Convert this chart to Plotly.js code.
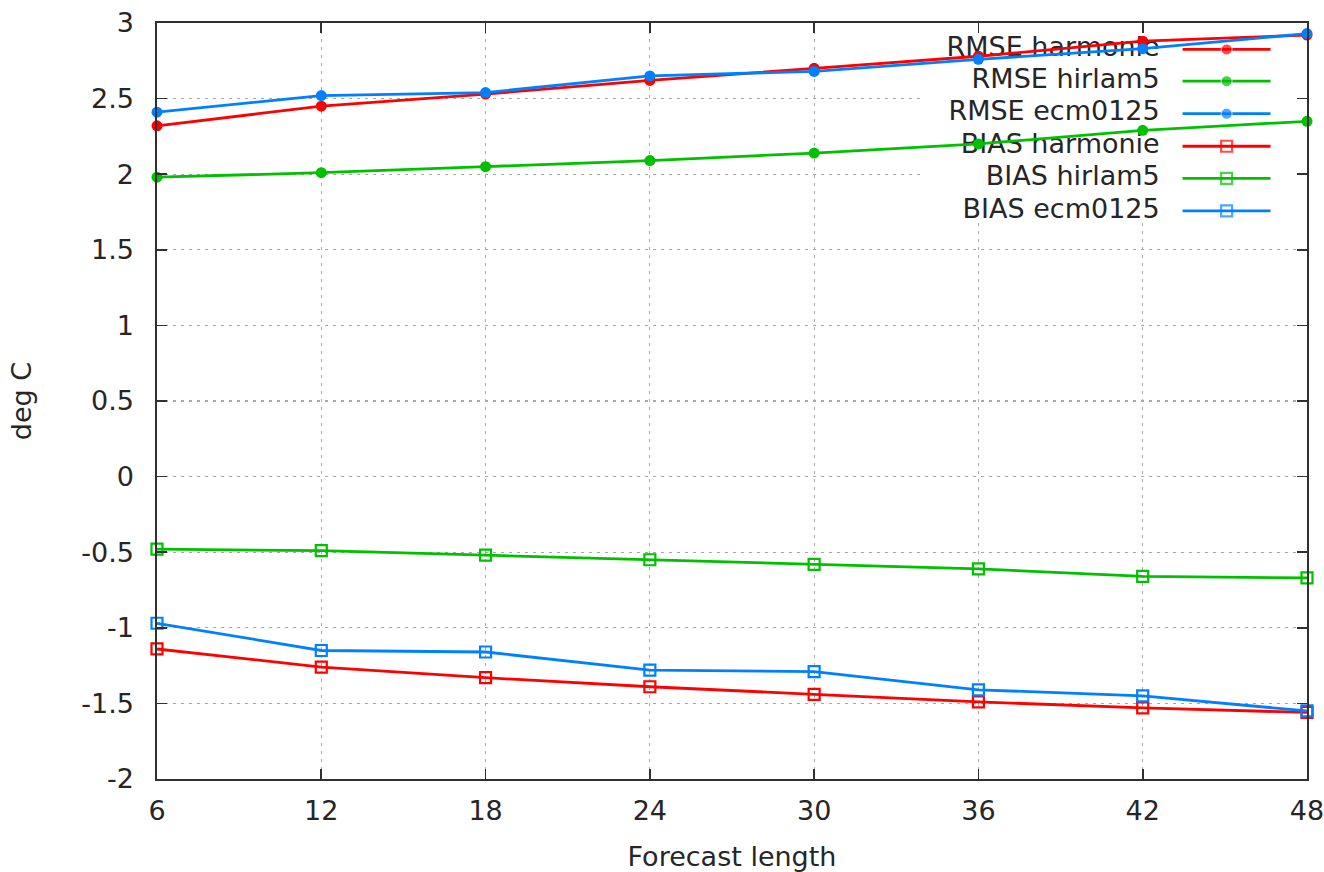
<!DOCTYPE html>
<html>
<head>
<meta charset="utf-8">
<script src="https://cdn.plot.ly/plotly-3.0.1.min.js"></script>
<style>
  html, body { margin: 0; padding: 0; background: #ffffff; }
  #chart { width: 1324px; height: 872px; }
</style>
</head>
<body>
<div id="chart"></div>
<script>
// Forecast verification: 2 m temperature RMSE and BIAS by lead time
const leadTimes = [6, 12, 18, 24, 30, 36, 42, 48];

const rmseHarmonie = [2.32, 2.45, 2.53, 2.62, 2.70, 2.78, 2.88, 2.92];
const rmseHirlam5  = [1.98, 2.01, 2.05, 2.09, 2.14, 2.20, 2.29, 2.35];
const rmseEcm0125  = [2.41, 2.52, 2.54, 2.65, 2.68, 2.76, 2.83, 2.93];
const biasHarmonie = [-1.14, -1.26, -1.33, -1.39, -1.44, -1.49, -1.53, -1.56];
const biasHirlam5  = [-0.48, -0.49, -0.52, -0.55, -0.58, -0.61, -0.66, -0.67];
const biasEcm0125  = [-0.97, -1.15, -1.16, -1.28, -1.29, -1.41, -1.45, -1.55];

const seriesNames = ["RMSE harmonie", "RMSE hirlam5", "RMSE ecm0125",
                     "BIAS harmonie", "BIAS hirlam5", "BIAS ecm0125"];

const yTickValues = [-2, -1.5, -1, -0.5, 0, 0.5, 1, 1.5, 2, 2.5, 3];
const yTickLabels = ["-2", "-1.5", "-1", "-0.5", "0", "0.5", "1", "1.5", "2", "2.5", "3"];
const xTickValues = [6, 12, 18, 24, 30, 36, 42, 48];

// styling
const RED = "#ff0000", GREEN = "#00c000", BLUE = "#0080ff";
const FONT = "DejaVu Sans, Verdana, sans-serif";
const TEXT = "#262626";
const FS = 27;
const X_RANGE = [6, 48], Y_RANGE = [-2, 3];

const styles = [
  { color: RED,   symbol: "circle" },
  { color: GREEN, symbol: "circle" },
  { color: BLUE,  symbol: "circle" },
  { color: RED,   symbol: "square-open" },
  { color: GREEN, symbol: "square-open" },
  { color: BLUE,  symbol: "square-open" }
];
const values = [rmseHarmonie, rmseHirlam5, rmseEcm0125, biasHarmonie, biasHirlam5, biasEcm0125];

// key placement, as fractions of the axis ranges
const fx = f => X_RANGE[0] + f * (X_RANGE[1] - X_RANGE[0]);
const fy = f => Y_RANGE[0] + f * (Y_RANGE[1] - Y_RANGE[0]);
const keyTextX = 0.8719, keyLine = [0.8918, 0.9301, 0.9683];
const keyRows = [0.9650, 0.9230, 0.8800, 0.8370, 0.7945, 0.7515];

const traces = [];

// key labels go first so the curves are drawn over them
traces.push({
  type: "scatter", mode: "text", hoverinfo: "skip", showlegend: false,
  x: keyRows.map(() => fx(keyTextX)),
  y: keyRows.map(r => fy(r)),
  text: seriesNames,
  textposition: "middle left",
  textfont: { family: FONT, size: FS, color: TEXT },
  cliponaxis: false
});

values.forEach((v, i) => {
  const s = styles[i];
  const isOpen = s.symbol === "square-open";
  const mk = isOpen
    ? { symbol: s.symbol, size: 11, color: s.color, line: { color: s.color, width: 2.2 } }
    : { symbol: s.symbol, size: 11, color: s.color };
  traces.push({
    type: "scatter", mode: "lines+markers", name: seriesNames[i],
    x: leadTimes, y: v, showlegend: false, cliponaxis: false,
    line: { color: s.color, width: 2.8 },
    marker: mk
  });
  // key sample: a short line with the marker in its middle
  traces.push({
    type: "scatter", mode: "lines+markers", hoverinfo: "skip", showlegend: false,
    x: keyLine.map(fx), y: keyLine.map(() => fy(keyRows[i])),
    line: { color: s.color, width: 2.8 },
    marker: Object.assign({}, mk, { size: [0, mk.size, 0] })
  });
});

const axisCommon = {
  showline: true, linecolor: "#303030", linewidth: 1.6, mirror: "ticks",
  ticks: "inside", ticklen: 10, tickwidth: 1.6, tickcolor: "#303030",
  showgrid: true, gridcolor: "#a8a8a8", gridwidth: 1.2, griddash: "3px,5px",
  zeroline: false, tickfont: { family: FONT, size: FS, color: TEXT },
  ticklabeloverflow: "allow", fixedrange: true
};

const layout = {
  width: 1324, height: 872,
  margin: { l: 157, r: 17, t: 23, b: 93 },
  paper_bgcolor: "#ffffff", plot_bgcolor: "#ffffff",
  showlegend: false,
  xaxis: Object.assign({}, axisCommon, {
    range: X_RANGE, tickmode: "array", tickvals: xTickValues,
    ticklabelstandoff: 7,
    title: { text: "Forecast length", font: { family: FONT, size: FS, color: TEXT }, standoff: 22 }
  }),
  yaxis: Object.assign({}, axisCommon, {
    range: Y_RANGE, tickmode: "array", tickvals: yTickValues, ticktext: yTickLabels,
    ticklabelstandoff: 16,
    title: { text: "deg C", font: { family: FONT, size: FS, color: TEXT }, standoff: 42 }
  }),
  // the key area keeps the grid clear
  shapes: [{
    type: "rect", layer: "between", xref: "x", yref: "y",
    x0: fx(0.6658), x1: fx(0.9910), y0: fy(0.7372), y1: Y_RANGE[1],
    fillcolor: "#ffffff", line: { width: 0 }
  }]
};

Plotly.newPlot("chart", traces, layout, { staticPlot: true, displayModeBar: false });
</script>
</body>
</html>
